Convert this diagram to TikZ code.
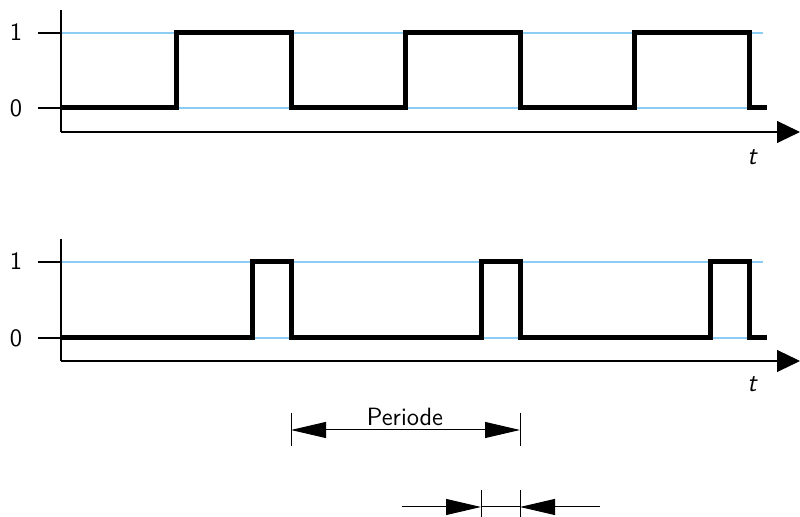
\documentclass[tikz,border=0pt]{standalone}
\usetikzlibrary{arrows.meta}
\begin{document}
\begin{tikzpicture}[x=0.5pt,y=-0.5pt,
  axis/.style={line width=0.55pt,black},
  axisarrow/.style={axis,-{Triangle[length=11.5pt,width=11pt]}},
  level/.style={line width=0.6pt,color={rgb,255:red,140;green,205;blue,245}},
  signal/.style={line width=2.5pt,line join=miter,line cap=butt},
  dim/.style={line width=0.5pt},
  dimarrow/.style={dim,-{Triangle[length=17.5pt,width=8pt]}},
  lab/.style={font=\sffamily\fontsize{12.5}{15}\selectfont,inner sep=0pt},
  tlab/.style={font=\sffamily\itshape\fontsize{13}{15}\selectfont,inner sep=0pt}]
\useasboundingbox (0,0) rectangle (800,517);
% ---------- top plot ----------
\coordinate (A1o) at (61,132);
\coordinate (A1y) at (61,10);
\coordinate (A1x) at (800,132);
\draw[level] (61,33) -- (763,33);
\draw[level] (61,108) -- (763,108);
\draw[axis] (A1y) -- (A1o);
\draw[axisarrow] (A1o) -- (A1x);
\draw[axis] (38,33) -- (61,33);
\draw[axis] (38,108) -- (61,108);
\node[lab] (one1) at (16,32.5) {1};
\node[lab] (zero1) at (16,108) {0};
\node[tlab] (t1) at (752,157) {t};
\draw[signal] (61,108) -- (176,108) -- (176,33) -- (291,33) -- (291,108)
  -- (405,108) -- (405,33) -- (520,33) -- (520,108)
  -- (634,108) -- (634,33) -- (749,33) -- (749,108) -- (767,108);
% ---------- bottom plot ----------
\coordinate (A2o) at (61,361);
\coordinate (A2y) at (61,239);
\coordinate (A2x) at (800,361);
\draw[level] (61,262) -- (763,262);
\draw[level] (61,338) -- (763,338);
\draw[axis] (A2y) -- (A2o);
\draw[axisarrow] (A2o) -- (A2x);
\draw[axis] (38,262) -- (61,262);
\draw[axis] (38,338) -- (61,338);
\node[lab] (one2) at (16,261.5) {1};
\node[lab] (zero2) at (16,338) {0};
\node[tlab] (t2) at (752,384) {t};
\draw[signal] (61,338) -- (252,338) -- (252,262) -- (291,262) -- (291,338)
  -- (481,338) -- (481,262) -- (520,262) -- (520,338)
  -- (710,338) -- (710,262) -- (749,262) -- (749,338) -- (767,338);
% ---------- period dimension ----------
\coordinate (P1t) at (291,413);
\coordinate (P1b) at (291,446);
\coordinate (P2t) at (520,413);
\coordinate (P2b) at (520,446);
\coordinate (PL) at (291,430);
\coordinate (PR) at (520,430);
\coordinate (PM) at (405.5,430);
\draw[dim] (P1t) -- (P1b);
\draw[dim] (P2t) -- (P2b);
\draw[dimarrow] (PM) -- (PL);
\draw[dimarrow] (PM) -- (PR);
\node[lab,anchor=base] (per) at (405,426) {Periode};
% ---------- pulse width dimension ----------
\coordinate (W1t) at (481,490);
\coordinate (W1b) at (481,517);
\coordinate (W2t) at (520,490);
\coordinate (W2b) at (520,517);
\coordinate (WL0) at (402,507);
\coordinate (WL) at (481,507);
\coordinate (WR) at (520,507);
\coordinate (WR0) at (600,507);
\draw[dim] (W1t) -- (W1b);
\draw[dim] (W2t) -- (W2b);
\draw[dimarrow] (WL0) -- (WL);
\draw[dimarrow] (WR0) -- (WR);
\draw[dim] (WL) -- (WR);
\end{tikzpicture}
\end{document}
